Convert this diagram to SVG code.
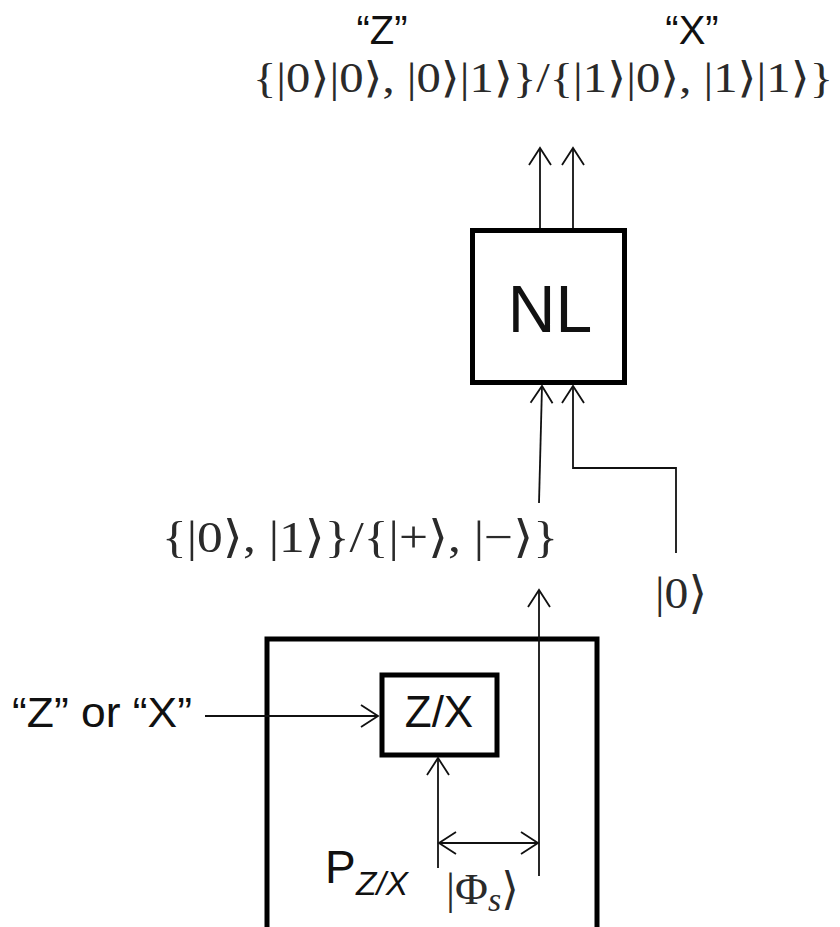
<svg xmlns="http://www.w3.org/2000/svg" width="840" height="927" viewBox="0 0 840 927">
<defs>
<style>
.sans{font-family:"Liberation Sans",Arial,sans-serif;fill:#111}
.math{font-family:"Liberation Serif","DejaVu Serif",serif;fill:#2a2a2a}
.box{fill:none;stroke:#000;stroke-width:5}
.wire{fill:none;stroke:#111;stroke-width:1.8}
</style>
<marker id="arr" markerUnits="userSpaceOnUse" markerWidth="30" markerHeight="30" viewBox="-20 -15 24 30" refX="0" refY="0" orient="auto-start-reverse">
<path d="M-17,-11 L0,0 L-17,11" fill="none" stroke="#111" stroke-width="1.8"/>
</marker>
</defs>
<rect width="840" height="927" fill="#fff"/>

<g id="outputs">
<text class="sans" x="382" y="44" font-size="40" text-anchor="middle">“Z”</text>
<text class="sans" x="692" y="44" font-size="40" text-anchor="middle">“X”</text>
<text class="math" x="253" y="92" font-size="42" textLength="580" lengthAdjust="spacingAndGlyphs">{|0⟩|0⟩, |0⟩|1⟩}/{|1⟩|0⟩, |1⟩|1⟩}</text>
</g>

<g id="nl">
<rect class="box" x="472.5" y="230.5" width="152" height="152"/>
<text class="sans" x="550" y="332" font-size="66" text-anchor="middle">NL</text>
</g>

<g id="input-label">
<text class="math" x="162" y="552" font-size="45" textLength="396" lengthAdjust="spacingAndGlyphs">{|0⟩, |1⟩}/{|+⟩, |−⟩}</text>
</g>

<g id="ancilla">
<text class="math" x="655" y="608" font-size="45" textLength="52" lengthAdjust="spacingAndGlyphs">|0⟩</text>
</g>

<g id="source">
<path class="box" d="M267,935 V639 H597 V935"/>
<text class="sans" x="325" y="883" font-size="46">P</text>
<text class="sans" x="356" y="895" font-size="33" font-style="italic" textLength="52" lengthAdjust="spacingAndGlyphs">Z/X</text>
<text class="math" x="446" y="904" font-size="45">|Φ<tspan font-style="italic" font-size="34" dy="7">s</tspan><tspan dy="-7">⟩</tspan></text>
</g>

<g id="zx">
<rect class="box" x="382" y="675" width="115" height="80"/>
<text class="sans" x="439" y="727" font-size="44" text-anchor="middle">Z/X</text>
</g>

<g id="basis-label">
<text class="sans" x="12" y="727" font-size="43" textLength="180" lengthAdjust="spacingAndGlyphs">“Z” or “X”</text>
</g>

<g id="connectors">
<line class="wire" x1="540" y1="228" x2="540" y2="148" marker-end="url(#arr)"/>
<line class="wire" x1="573" y1="228" x2="573" y2="148" marker-end="url(#arr)"/>
<line class="wire" x1="539" y1="503" x2="542" y2="386" marker-end="url(#arr)"/>
<polyline class="wire" points="676,553 676,468 573,468 573,386" marker-end="url(#arr)"/>
<line class="wire" x1="539" y1="876" x2="539" y2="590" marker-end="url(#arr)"/>
<line class="wire" x1="205" y1="716" x2="378" y2="716" marker-end="url(#arr)"/>
<line class="wire" x1="438" y1="868" x2="438" y2="758" marker-end="url(#arr)"/>
<line class="wire" x1="439" y1="843" x2="538" y2="843" marker-start="url(#arr)" marker-end="url(#arr)"/>
</g>
</svg>
